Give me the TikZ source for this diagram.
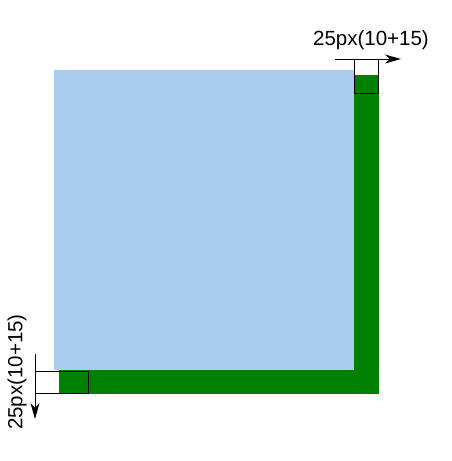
\documentclass[tikz,border=0pt]{standalone}
\usepackage{fontspec}
\setmainfont{Liberation Sans}
\usetikzlibrary{arrows.meta}
\definecolor{skyblue}{HTML}{AACCEE}
\definecolor{shadowgreen}{HTML}{008000}
\begin{document}
\begin{tikzpicture}[x=1pt,y=-1pt,
  measure/.style={draw=black,line width=0.9pt},
  dimarrow/.style={draw=black,line width=0.9pt,-{Stealth[length=16pt,width=9pt,inset=5pt]}},
  lbl/.style={font=\fontsize{20.5}{22}\selectfont,inner sep=0pt}]
\useasboundingbox (0,0) rectangle (452,461);
% shadow
\fill[shadowgreen] (59,75) rectangle (379,394);
% box
\fill[skyblue] (54,70) rectangle (354,370);
% top-right measure
\coordinate (tra) at (335,59);
\coordinate (trb) at (401,59);
\draw[measure] (354,59) rectangle (378,93);
\draw[dimarrow] (tra) -- (trb);
\node[lbl] (tl) at (371,40) {25px(10+15)};
% bottom-left measure
\coordinate (bla) at (35,354);
\coordinate (blb) at (35,419);
\draw[measure] (35,371) rectangle (88,393);
\draw[dimarrow] (bla) -- (blb);
\node[lbl,rotate=90] (bl) at (17,372) {25px(10+15)};
\end{tikzpicture}
\end{document}
